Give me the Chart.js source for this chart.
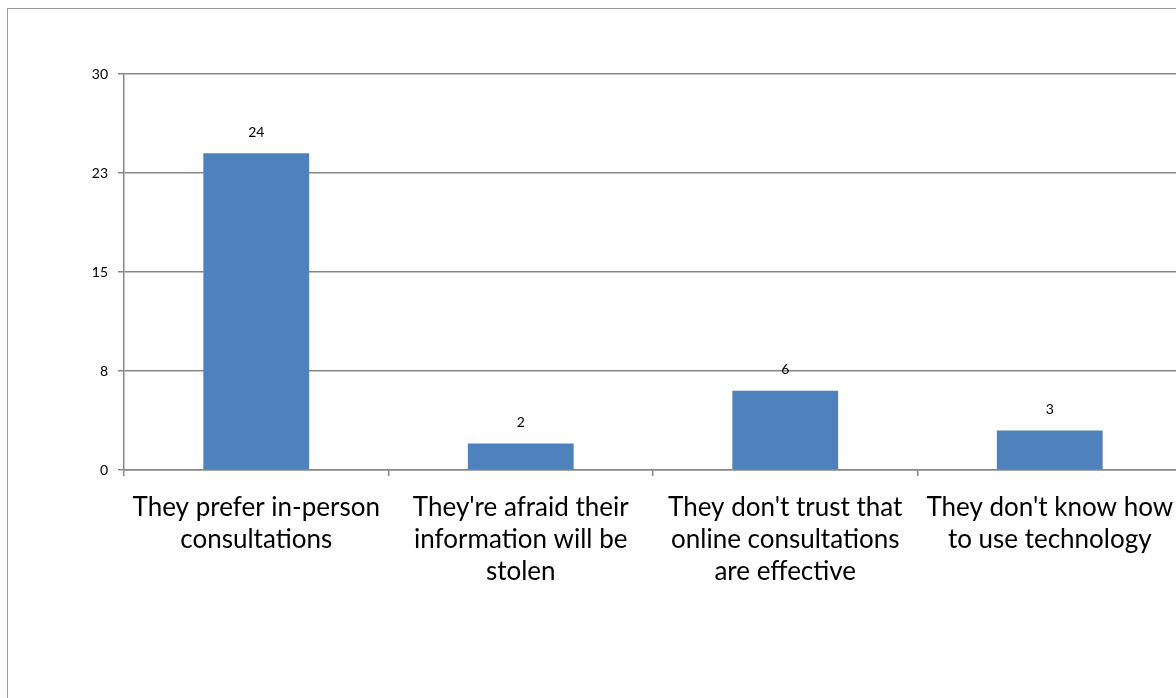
<!DOCTYPE html>
<html lang="en">
<head>
  <meta charset="UTF-8">
  <title>Reasons</title>
  <style>
    body {
      margin: 0;
      background: #fff;
      overflow: hidden;
      width: 1176px;
      height: 698px;
    }
    /* outer chart frame, only top and left edge visible in the crop */
    .frame {
      position: absolute;
      left: 7px;
      top: 8px;
      width: 1300px;
      height: 900px;
      border: 1.5px solid #999;
    }
    #myChart {
      position: absolute;
      left: 0;
      top: 0;
    }
  </style>
  <script src="https://cdn.jsdelivr.net/npm/chart.js"></script>
</head>
<body>
  <div class="frame"></div>
  <canvas id="myChart" width="1182" height="698"></canvas>

  <script>
    const categories = [
      ["They prefer in-person", "consultations"],
      ["They're afraid their", "information will be", "stolen"],
      ["They don't trust that", "online consultations", "are effective"],
      ["They don't know how", "to use technology"]
    ];
    const counts = [24, 2, 6, 3];
    const yTicks = [0, 7.5, 15, 22.5, 30];

    const gridColor = '#878787';
    const fontFamily = 'Lato, "Open Sans", sans-serif';

    // draws the value above every bar
    const valueLabels = {
      id: 'valueLabels',
      afterDatasetsDraw(chart) {
        const ctx = chart.ctx;
        const meta = chart.getDatasetMeta(0);
        ctx.save();
        ctx.font = '14px ' + fontFamily;
        ctx.fillStyle = '#000';
        ctx.textAlign = 'center';
        ctx.textBaseline = 'middle';
        meta.data.forEach((bar, i) => {
          ctx.fillText(String(counts[i]), bar.x, bar.y - 21);
        });
        ctx.restore();
      }
    };

    const ctx = document.getElementById('myChart').getContext('2d');
    new Chart(ctx, {
      type: 'bar',
      data: {
        labels: categories,
        datasets: [{
          data: counts,
          backgroundColor: '#4f81bd',
          borderWidth: 0,
          barPercentage: 0.4,
          categoryPercentage: 1.0
        }]
      },
      options: {
        responsive: false,
        animation: false,
        layout: { padding: { top: 74, left: 0, right: 0, bottom: 0 } },
        plugins: {
          legend: { display: false },
          tooltip: { enabled: false }
        },
        scales: {
          x: {
            afterFit(scale) {
              scale.height = 228;
              // labels may hang past the plot edge, like the original
              scale.paddingLeft = 0;
              scale.paddingRight = 0;
            },
            grid: {
              offset: true,
              drawOnChartArea: false,
              tickLength: 6,
              color: gridColor,
              lineWidth: 1.5
            },
            border: { color: gridColor, width: 1.5 },
            ticks: {
              color: '#000',
              padding: 15,
              maxRotation: 0,
              autoSkip: false,
              font: { family: fontFamily, size: 26, lineHeight: 1.24 }
            }
          },
          y: {
            min: 0,
            max: 30,
            afterFit(scale) { scale.width = 124; },
            afterBuildTicks(scale) {
              scale.ticks = yTicks.map(v => ({ value: v }));
            },
            grid: {
              tickLength: 6,
              color: gridColor,
              lineWidth: 1.5
            },
            border: { color: gridColor, width: 1.5 },
            ticks: {
              color: '#000',
              padding: 10,
              font: { family: fontFamily, size: 14 },
              callback: v => Math.round(v)
            }
          }
        }
      },
      plugins: [valueLabels]
    });
  </script>
</body>
</html>
